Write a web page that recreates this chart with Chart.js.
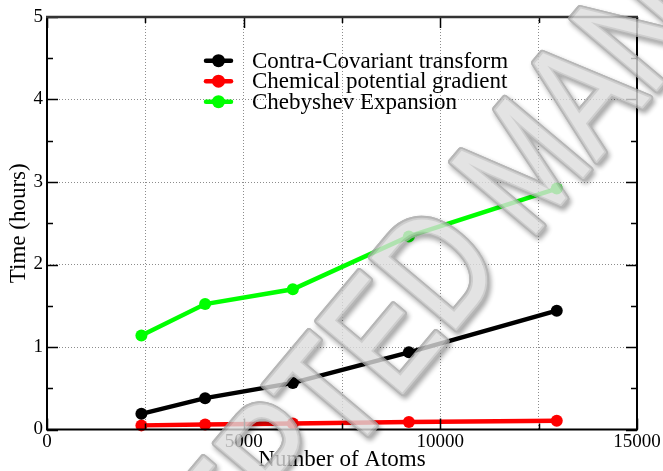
<!DOCTYPE html>
<html><head><meta charset="utf-8">
<script src="https://cdn.jsdelivr.net/npm/chart.js@4/dist/chart.umd.min.js"></script>
<style>html,body{margin:0;padding:0;background:#fff}#wrap{width:663px;height:471px}</style>
</head><body><div id="wrap"><canvas id="c" width="663" height="471"></canvas></div>
<script>
// ---- data ----
const atoms = [2400, 4020, 6250, 9200, 12960];
const contraCovariant = [0.19, 0.38, 0.565, 0.935, 1.44];
const chemPotential = [0.05, 0.06, 0.072, 0.09, 0.105];
const chebyshev = [1.14, 1.52, 1.70, 2.34, 2.92];
const seriesLabels = ['Contra-Covariant transform', 'Chemical potential gradient', 'Chebyshev Expansion'];
const xTickLabels = ['0', '5000', '10000', '15000'];
const yTickLabels = ['0', '1', '2', '3', '4', '5'];
const xTitle = 'Number of Atoms';
const yTitle = 'Time (hours)';
const watermarkText = 'ACCEPTED MANUSCRIPT';

const SERIF = '"Liberation Serif", "Times New Roman", serif';
const colors = ['#000000', '#ff0000', '#00ff00'];

function pts(ys) { return atoms.map((x, i) => ({x: x, y: ys[i]})); }
const seriesValues = [contraCovariant, chemPotential, chebyshev];

const datasets = seriesValues.map((ys, i) => ({
  label: seriesLabels[i],
  data: pts(ys),
  borderColor: colors[i],
  backgroundColor: colors[i],
  pointBackgroundColor: colors[i],
  pointBorderColor: colors[i],
  borderWidth: 4.5,
  pointRadius: 6,
  pointBorderWidth: 0,
  showLine: true,
  tension: 0,
  clip: false
}));

function drawWatermark(ctx, W, H) {
  const off = document.createElement('canvas');
  off.width = W; off.height = H;
  const o = off.getContext('2d');
  const F = 160, sx = 0.78, ang = 50 * Math.PI / 180;
  o.font = F + 'px "Liberation Sans", Arial, sans-serif';
  const pre = o.measureText('ACCEPTE').width;
  const dm = o.measureText('D');
  const cx = pre + (dm.actualBoundingBoxRight - dm.actualBoundingBoxLeft) / 2;
  const cy = -dm.actualBoundingBoxAscent / 2;
  o.translate(437.5, 265);
  o.rotate(-ang);
  o.scale(sx, 1);
  o.textBaseline = 'alphabetic';
  o.textAlign = 'left';
  o.lineJoin = 'round';
  o.lineCap = 'round';
  // shadow
  o.save();
  o.shadowColor = 'rgba(0,0,0,0.45)';
  o.shadowBlur = 5;
  o.shadowOffsetX = 2;
  o.shadowOffsetY = 3;
  o.strokeStyle = '#a0a0a0';
  o.lineWidth = 8;
  o.strokeText(watermarkText, -cx, -cy);
  o.restore();
  o.strokeStyle = '#a4a4a4';
  o.lineWidth = 8;
  o.strokeText(watermarkText, -cx, -cy);
  o.strokeStyle = '#c2c2c2';
  o.lineWidth = 4;
  o.strokeText(watermarkText, -cx, -cy);
  o.fillStyle = '#dcdcdc';
  o.fillText(watermarkText, -cx, -cy);
  ctx.save();
  ctx.globalAlpha = 0.8;
  ctx.drawImage(off, 0, 0);
  ctx.restore();
}

const framePlugin = {
  id: 'frameTicks',
  afterDraw(chart) {
    const ctx = chart.ctx, a = chart.chartArea;
    const xs = chart.scales.x, ys = chart.scales.y;
    ctx.save();
    // inward ticks
    ctx.strokeStyle = '#000';
    ctx.lineWidth = 1.5;
    for (let v = 0; v <= 15000; v += 2500) {
      const px = Math.round(xs.getPixelForValue(v)) + 0.5;
      const len = (v % 5000 === 0) ? 11 : 6;
      ctx.beginPath();
      ctx.moveTo(px, a.bottom); ctx.lineTo(px, a.bottom - len);
      ctx.moveTo(px, a.top); ctx.lineTo(px, a.top + len);
      ctx.stroke();
    }
    for (let v = 0; v <= 5; v += 0.5) {
      const py = Math.round(ys.getPixelForValue(v)) + 0.5;
      const len = (Number.isInteger(v)) ? 11 : 6;
      ctx.beginPath();
      ctx.moveTo(a.left, py); ctx.lineTo(a.left + len, py);
      ctx.moveTo(a.right, py); ctx.lineTo(a.right - len, py);
      ctx.stroke();
    }
    // frame
    ctx.lineWidth = 2;
    ctx.strokeStyle = '#000';
    ctx.beginPath();
    ctx.moveTo(a.left, a.top); ctx.lineTo(a.left, a.bottom); ctx.lineTo(a.right, a.bottom); ctx.lineTo(a.right, a.top);
    ctx.stroke();
    ctx.strokeStyle = '#333';
    ctx.lineWidth = 2.5;
    ctx.beginPath();
    ctx.moveTo(a.left - 1, a.top); ctx.lineTo(a.right + 1, a.top);
    ctx.stroke();

    // legend
    const rowY = [60.7, 81.2, 101.7];
    ctx.font = '23px ' + SERIF;
    ctx.textBaseline = 'middle';
    ctx.textAlign = 'left';
    chart.data.datasets.forEach((ds, i) => {
      const y = rowY[i];
      ctx.strokeStyle = ds.borderColor;
      ctx.lineWidth = 4.5;
      ctx.lineCap = 'round';
      ctx.beginPath(); ctx.moveTo(206, y); ctx.lineTo(231, y); ctx.stroke();
      ctx.fillStyle = ds.borderColor;
      ctx.beginPath(); ctx.arc(218.5, y, 6.5, 0, Math.PI * 2); ctx.fill();
      ctx.fillStyle = '#000';
      ctx.fillText(ds.label, 252, y + 1);
    });
    ctx.restore();

    drawWatermark(ctx, chart.width, chart.height);
  }
};

new Chart(document.getElementById('c'), {
  type: 'scatter',
  data: {datasets: datasets},
  options: {
    responsive: false,
    animation: false,
    layout: {padding: {top: 17, right: 26, left: 0, bottom: 0}},
    plugins: {legend: {display: false}, tooltip: {enabled: false}},
    scales: {
      x: {
        type: 'linear', min: 0, max: 15000,
        afterFit(s) { s.height = 41.5; },
        afterBuildTicks(s) {
          const t = [];
          for (let v = 0; v <= 15000; v += 2500) t.push({value: v});
          s.ticks = t;
        },
        ticks: {
          autoSkip: false, maxRotation: 0, padding: 1, color: '#000',
          font: {family: SERIF, size: 19},
          callback: (v) => { const k = xTickLabels.indexOf(String(v)); return k >= 0 ? xTickLabels[k] : ''; }
        },
        grid: {color: 'rgba(0,0,0,0.45)', lineWidth: 1, drawTicks: false, borderDash: [1, 2]},
        border: {display: false, dash: [1, 2]},
        title: {display: true, text: xTitle, color: '#000', font: {family: SERIF, size: 23, lineHeight: 1}, padding: {top: 0, bottom: 0}}
      },
      y: {
        type: 'linear', min: 0, max: 5,
        afterFit(s) { s.width = 47; },
        ticks: {
          stepSize: 1, padding: 4, color: '#000',
          font: {family: SERIF, size: 19},
          callback: (v) => { const k = yTickLabels.indexOf(String(v)); return k >= 0 ? yTickLabels[k] : ''; }
        },
        grid: {color: 'rgba(0,0,0,0.45)', lineWidth: 1, drawTicks: false, borderDash: [1, 2]},
        border: {display: false, dash: [1, 2]},
        title: {display: true, text: yTitle, color: '#000', font: {family: SERIF, size: 23, lineHeight: 1}, padding: {top: 7, bottom: 0}}
      }
    }
  },
  plugins: [framePlugin]
});
</script>
</body></html>
